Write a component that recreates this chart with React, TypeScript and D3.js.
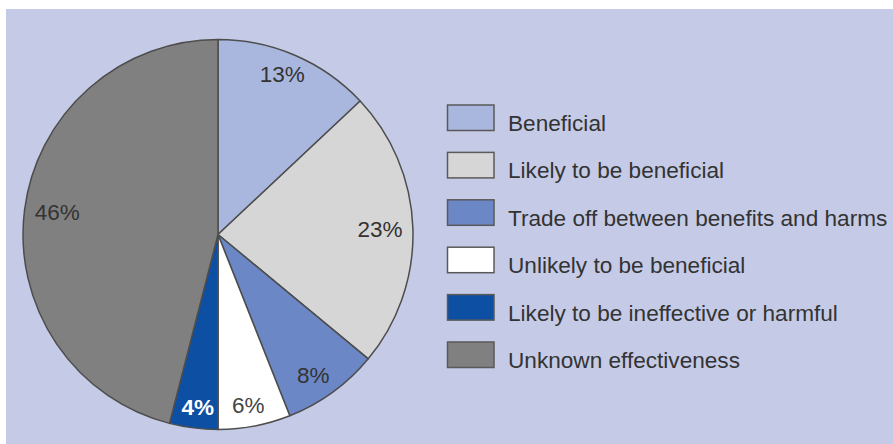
import React from 'react'
import * as d3 from 'd3'

// Categories, shares (%) and colours
const categories = [
    'Beneficial',
    'Likely to be beneficial',
    'Trade off between benefits and harms',
    'Unlikely to be beneficial',
    'Likely to be ineffective or harmful',
    'Unknown effectiveness',
]
const shares = [13, 23, 8, 6, 4, 46]
const colors = ['#a9b6dd', '#d6d6d6', '#6b87c6', '#ffffff', '#0c4fa3', '#808080']
const labelColors = ['#333', '#333', '#333', '#444', '#ffffff', '#333']

const W = 893
const H = 444
const FONT = '"Liberation Sans", Arial, Helvetica, sans-serif'

const App = () => {
    const cx = 218
    const cy = 234.5
    const radius = 195

    const pie = d3.pie<number>().sort(null).value(d => d)
    const arcs = pie(shares)
    const arc = d3.arc<d3.PieArcDatum<number>>().innerRadius(0).outerRadius(radius)

    // labels sit on an ellipse inside the rim
    const labelRx = 162
    const labelRy = 174

    const legend = d3.scaleBand<string>()
        .domain(categories)
        .range([105, 105 + 47.4 * 6])

    return (
        <div style={{ position: 'fixed', left: 0, top: 0 }}>
            <svg width={W} height={H} style={{ display: 'block', background: '#ffffff' }}>
                <rect x={6} y={9} width={W - 6} height={H - 9} fill="#c5cbe7" />
                <g transform={`translate(${cx},${cy})`}>
                    {arcs.map((a, i) => (
                        <path key={`slice-${i}`} d={arc(a) || ''} fill={colors[i]}
                              stroke="#4d4d4d" strokeWidth={1.5} strokeLinejoin="round" />
                    ))}
                    {arcs.map((a, i) => {
                        const mid = (a.startAngle + a.endAngle) / 2
                        const x = labelRx * Math.sin(mid)
                        const y = -labelRy * Math.cos(mid)
                        return (
                            <text key={`label-${i}`} x={x} y={y} textAnchor="middle" dominantBaseline="central"
                                  fontFamily={FONT} fontSize={22.5} fill={labelColors[i]}
                                  fontWeight={i === 4 ? 'bold' : 'normal'}>
                                {`${a.data}%`}
                            </text>
                        )
                    })}
                </g>
                <g>
                    {categories.map((c, i) => {
                        const y = legend(c) || 0
                        return (
                            <g key={`legend-${i}`}>
                                <rect x={447.5} y={y} width={46.5} height={25.5} fill={colors[i]}
                                      stroke="#5a5a5a" strokeWidth={1.5} />
                                <text x={508} y={y + 26} fontFamily={FONT} fontSize={22.6} fill="#333">{c}</text>
                            </g>
                        )
                    })}
                </g>
            </svg>
        </div>
    )
}

export default App
